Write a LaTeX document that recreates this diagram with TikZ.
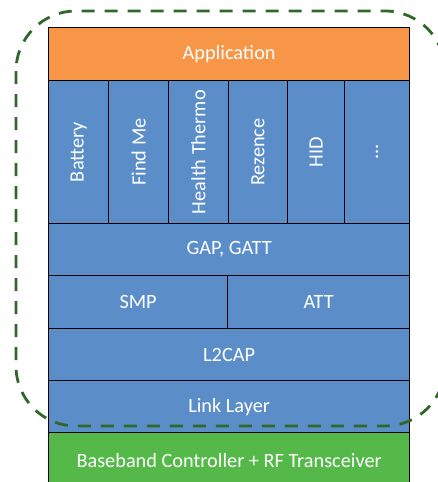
\documentclass[tikz,border=0pt]{standalone}
\usepackage{fontspec}
\setmainfont{Carlito}
\definecolor{appOrange}{RGB}{247,150,70}
\definecolor{stackBlue}{RGB}{91,142,201}
\definecolor{radioGreen}{RGB}{84,185,72}
\definecolor{hostGreen}{RGB}{48,104,42}

\begin{document}
\begin{tikzpicture}[x=1pt,y=-1pt,
  layer/.style={draw=black, line width=1.3pt, text=white, inner sep=0pt,
    anchor=north west, font=\fontsize{20.3}{24}\selectfont},
  bluelayer/.style={layer, fill=stackBlue},
  profile/.style={bluelayer, minimum height=143pt}]
\useasboundingbox (0,0) rectangle (438,482);

% application layer
\node[layer, fill=appOrange, minimum width=361pt, minimum height=53pt] (app) at (48,27) {Application};

% profiles
\node[profile, minimum width=60pt] (battery) at (48,80) {\rotatebox{90}{Battery}};
\node[profile, minimum width=60pt] (findme) at (108,80) {\rotatebox{90}{Find Me}};
\node[profile, minimum width=59.5pt] (thermo) at (168,80) {\rotatebox{90}{Health Thermo}};
\node[profile, minimum width=59.5pt] (rezence) at (227.5,80) {\rotatebox{90}{Rezence}};
\node[profile, minimum width=57pt] (hid) at (287,80) {\rotatebox{90}{HID}};
\node[profile, minimum width=65pt] (more) at (344,80) {\rotatebox{90}{...}};

% host protocol layers
\node[bluelayer, minimum width=361pt, minimum height=52pt] (gap) at (48,223) {GAP, GATT};
\node[bluelayer, minimum width=179pt, minimum height=53pt] (smp) at (48,275) {SMP};
\node[bluelayer, minimum width=182pt, minimum height=53pt] (att) at (227,275) {ATT};
\node[bluelayer, minimum width=361pt, minimum height=52pt] (l2cap) at (48,328) {L2CAP};
\node[bluelayer, minimum width=361pt, minimum height=52pt] (ll) at (48,380) {Link Layer};

% radio
\node[layer, fill=radioGreen, minimum width=361pt, minimum height=56pt] (radio) at (48,432) {Baseband Controller + RF Transceiver};

% host boundary
\draw[hostGreen, line width=2.8pt, dash pattern=on 13pt off 10pt, rounded corners=60pt]
  (16,11) rectangle (445,426);
\end{tikzpicture}
\end{document}
